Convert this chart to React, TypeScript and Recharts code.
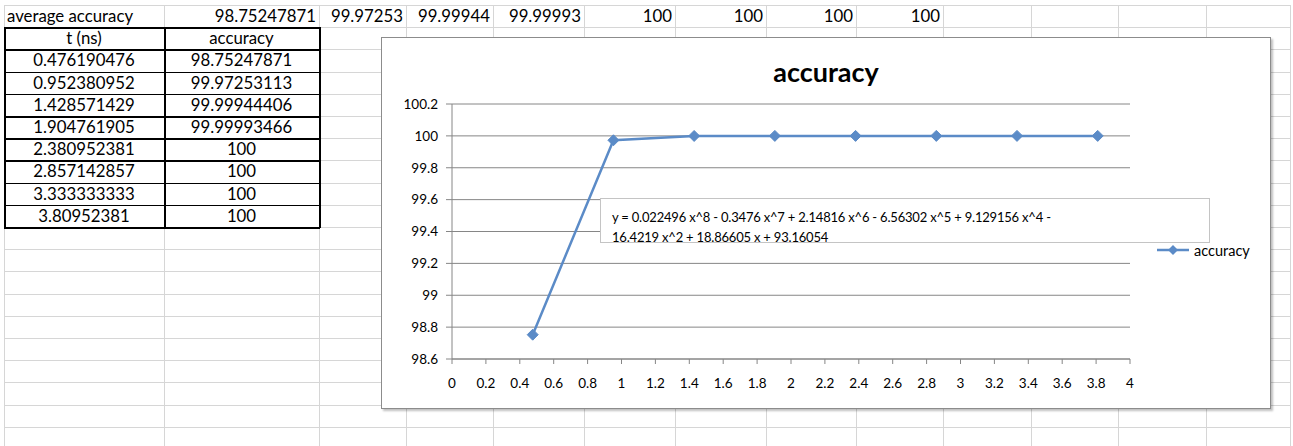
import { CartesianGrid, Line, LineChart, XAxis, YAxis } from 'recharts'

const tValues = [0.476190476, 0.952380952, 1.428571429, 1.904761905, 2.380952381, 2.857142857, 3.333333333, 3.80952381]
const accuracy = [98.75247871, 99.97253113, 99.99944406, 99.99993466, 100, 100, 100, 100]
const averageRow = ['98.75247871', '99.97253', '99.99944', '99.99993', '100', '100', '100', '100']
const xTicks = [0, 0.2, 0.4, 0.6, 0.8, 1, 1.2, 1.4, 1.6, 1.8, 2, 2.2, 2.4, 2.6, 2.8, 3, 3.2, 3.4, 3.6, 3.8, 4]
const yTicks = [98.6, 98.8, 99, 99.2, 99.4, 99.6, 99.8, 100, 100.2]
const trendText = [
  'y = 0.022496 x^8 - 0.3476 x^7 + 2.14816 x^6 - 6.56302 x^5 + 9.129156 x^4 -',
  '16.4219 x^2 + 18.86605 x + 93.16054',
]

const cols = [4, 164, 319, 406, 493, 584, 675, 766, 856, 943, 1031, 1118, 1206, 1290]
const rowTop = 5
const rowH = 22.2
const rowCount = 20

const font = 'Lato, "Open Sans", sans-serif'
const blue = '#5B8BC7'

const chartData = tValues.map((t, i) => ({ t, accuracy: accuracy[i] }))

function Diamond(props: any) {
  const { cx, cy, index } = props
  if (cx == null || cy == null) return null
  const r = 5.5
  return (
    <polygon
      key={`d-${index}`}
      points={`${cx},${cy - r} ${cx + r},${cy} ${cx},${cy + r} ${cx - r},${cy}`}
      fill={blue}
      stroke={blue}
    />
  )
}

function Sheet() {
  const lines: JSX.Element[] = []
  for (let i = 0; i <= rowCount; i++) {
    lines.push(
      <div key={`h${i}`} style={{ position: 'absolute', left: cols[0], top: rowTop + i * rowH, width: cols[cols.length - 1] - cols[0], height: 1, background: '#d6d6d6' }} />,
    )
  }
  cols.forEach((x, i) => {
    lines.push(<div key={`v${i}`} style={{ position: 'absolute', left: x, top: rowTop, width: 1, height: 446 - rowTop, background: '#d6d6d6' }} />)
  })

  const cell = (c: number, r: number, text: string, align: 'left' | 'right' | 'center', key: string) => (
    <div
      key={key}
      style={{
        position: 'absolute',
        left: cols[c] + 3,
        width: cols[c + 1] - cols[c] - 6,
        top: rowTop + r * rowH,
        height: rowH,
        lineHeight: `${rowH}px`,
        textAlign: align,
        fontSize: 16.8,
        whiteSpace: 'nowrap',
      }}
    >
      {text}
    </div>
  )

  const texts: JSX.Element[] = [cell(0, 0, 'average accuracy', 'left', 'avg')]
  averageRow.forEach((v, i) => texts.push(cell(i + 1, 0, v, 'right', `a${i}`)))
  texts.push(cell(0, 1, 't (ns)', 'center', 'th0'))
  texts.push(cell(1, 1, 'accuracy', 'center', 'th1'))
  tValues.forEach((t, i) => {
    texts.push(cell(0, i + 2, String(t), 'center', `t${i}`))
    texts.push(cell(1, i + 2, String(accuracy[i]), 'center', `v${i}`))
  })

  // black borders of the data table
  const tblTop = rowTop + rowH
  const tblBottom = rowTop + 10 * rowH
  const borders: JSX.Element[] = []
  for (let r = 1; r <= 10; r++) {
    borders.push(<div key={`bh${r}`} style={{ position: 'absolute', left: cols[0], top: rowTop + r * rowH, width: cols[2] - cols[0] + 1, height: 1.5, background: '#000' }} />)
  }
  for (let c = 0; c <= 2; c++) {
    borders.push(<div key={`bv${c}`} style={{ position: 'absolute', left: cols[c], top: tblTop, width: 1.5, height: tblBottom - tblTop + 1, background: '#000' }} />)
  }

  return (
    <>
      {lines}
      {borders}
      {texts}
    </>
  )
}

export default function App() {
  const boxL = 381
  const boxT = 37
  const boxW = 890
  const boxH = 372
  return (
    <div style={{ position: 'absolute', left: 0, top: 0, width: 1293, height: 446, background: '#fff', fontFamily: font, color: '#000', overflow: 'hidden' }}>
      <Sheet />
      <div
        style={{
          position: 'absolute',
          left: boxL,
          top: boxT,
          width: boxW,
          height: boxH,
          boxSizing: 'border-box',
          border: '1px solid #8c8c8c',
          background: '#fff',
          boxShadow: '2px 2px 2px rgba(0,0,0,0.25)',
        }}
      >
        <div style={{ position: 'absolute', left: 0, width: boxW - 2, top: 18, lineHeight: '32px', textAlign: 'center', fontWeight: 700, fontSize: 27 }}>
          accuracy
        </div>
        <LineChart width={boxW - 2} height={boxH - 2} data={chartData} margin={{ top: 66, right: 140, left: 8, bottom: 19 }}>
          <CartesianGrid vertical={false} stroke="#868686" strokeWidth={1} />
          <XAxis
            dataKey="t"
            type="number"
            domain={[0, 4]}
            ticks={xTicks}
            interval={0}
            height={30}
            tickSize={5}
            tickMargin={14}
            stroke="#868686"
            tick={{ fill: '#000', fontSize: 13.5, fontFamily: font }}
          />
          <YAxis
            type="number"
            domain={[98.6, 100.2]}
            ticks={yTicks}
            interval={0}
            width={62}
            tickSize={6}
            tickMargin={8}
            stroke="#868686"
            tick={{ fill: '#000', fontSize: 13.5, fontFamily: font }}
          />
          <Line
            type="linear"
            dataKey="accuracy"
            stroke={blue}
            strokeWidth={2.5}
            dot={Diamond}
            activeDot={false}
            isAnimationActive={false}
          />
        </LineChart>
        <div
          style={{
            position: 'absolute',
            left: 600 - boxL - 1,
            top: 198 - boxT - 1,
            width: 610,
            height: 45,
            boxSizing: 'border-box',
            border: '1px solid #c4c4c4',
            background: '#fff',
            padding: '8px 0 0 11px',
            fontSize: 13,
            letterSpacing: '-0.2px',
            lineHeight: '20px',
            whiteSpace: 'nowrap',
          }}
        >
          {trendText.map((s) => (
            <div key={s}>{s}</div>
          ))}
        </div>
        <div style={{ position: 'absolute', left: 1157 - boxL - 1, top: 241 - boxT - 1, height: 18, display: 'flex', alignItems: 'center', fontSize: 14.5 }}>
          <svg width={34} height={18}>
            <line x1={0} y1={9} x2={32} y2={9} stroke={blue} strokeWidth={2.5} />
            <polygon points="16,4 21,9 16,14 11,9" fill={blue} />
          </svg>
          <span style={{ marginLeft: 3 }}>accuracy</span>
        </div>
      </div>
    </div>
  )
}
